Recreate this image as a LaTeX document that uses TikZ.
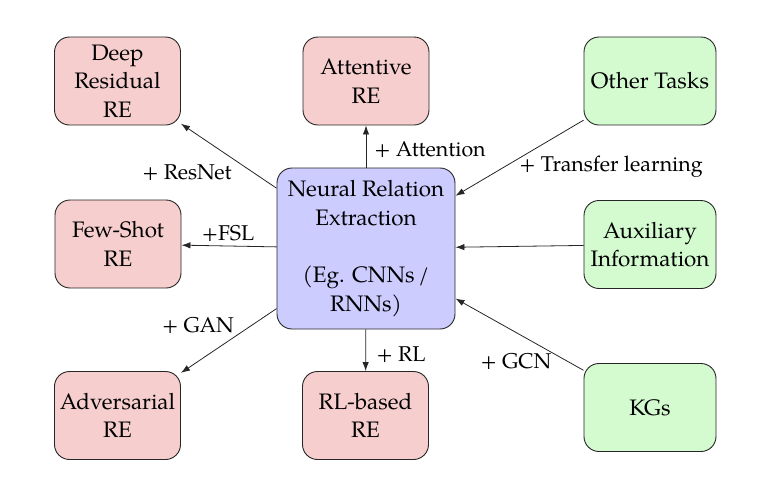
\documentclass[tikz,border=0pt]{standalone}
\usepackage{fontspec}
\setmainfont{TeX Gyre Pagella}
\usetikzlibrary{arrows.meta}
\definecolor{pinkfill}{RGB}{247,206,206}
\definecolor{bluefill}{RGB}{204,204,255}
\definecolor{greenfill}{RGB}{212,250,208}
\begin{document}
\begin{tikzpicture}[x=0.5pt,y=-0.5pt,
  font=\fontsize{11.2}{14.3}\selectfont,
  box/.style={draw=black!85,line width=0.45pt,rounded corners=7.5pt,align=center,inner sep=2pt},
  rebox/.style={box,fill=pinkfill,minimum width=63pt,minimum height=44pt},
  srcbox/.style={box,fill=greenfill,minimum width=66pt,minimum height=44pt},
  mainbox/.style={box,fill=bluefill,minimum width=89pt,minimum height=80.5pt},
  arr/.style={-{Latex[length=4.5pt,width=3.2pt]},line width=0.4pt,draw=black!85},
  lbl/.style={inner sep=0pt,font=\fontsize{10.7}{13}\selectfont}]
\useasboundingbox (0,0) rectangle (768,488);
\node[mainbox] (nre) at (366,248.5) {Neural Relation\\Extraction\\[14.3pt](Eg. CNNs\,/\\RNNs)};
\node[rebox] (deep) at (117.5,81) {Deep\\Residual\\RE};
\node[rebox] (att) at (366,81) {Attentive\\RE};
\node[rebox] (few) at (118,244) {Few-Shot\\RE};
\node[rebox] (adv) at (117.5,415.5) {Adversarial\\RE};
\node[rebox] (rl) at (365.5,415.5) {RL-based\\RE};
\node[srcbox] (other) at (650,81) {Other Tasks};
\node[srcbox] (aux) at (650,244.5) {Auxiliary\\Information};
\node[srcbox] (kg) at (650,407.5) {KGs};
\draw[arr] (nre) -- (deep);
\draw[arr] (nre) -- (att);
\draw[arr] (nre) -- (few);
\draw[arr] (nre) -- (adv);
\draw[arr] (nre) -- (rl);
\draw[arr] (other) -- (nre);
\draw[arr] (aux) -- (nre);
\draw[arr] (kg) -- (nre);
\node[lbl] (lres) at (187,173) {+ ResNet};
\node[lbl] (latt) at (430,150) {+ Attention};
\node[lbl] (ltl) at (611,167) {+ Transfer learning};
\node[lbl] (lfsl) at (228,233) {+FSL};
\node[lbl] (lgan) at (198,325) {+ GAN};
\node[lbl] (lrl) at (401,355) {+ RL};
\node[lbl] (lgcn) at (516,361) {+ GCN};
\end{tikzpicture}
\end{document}
